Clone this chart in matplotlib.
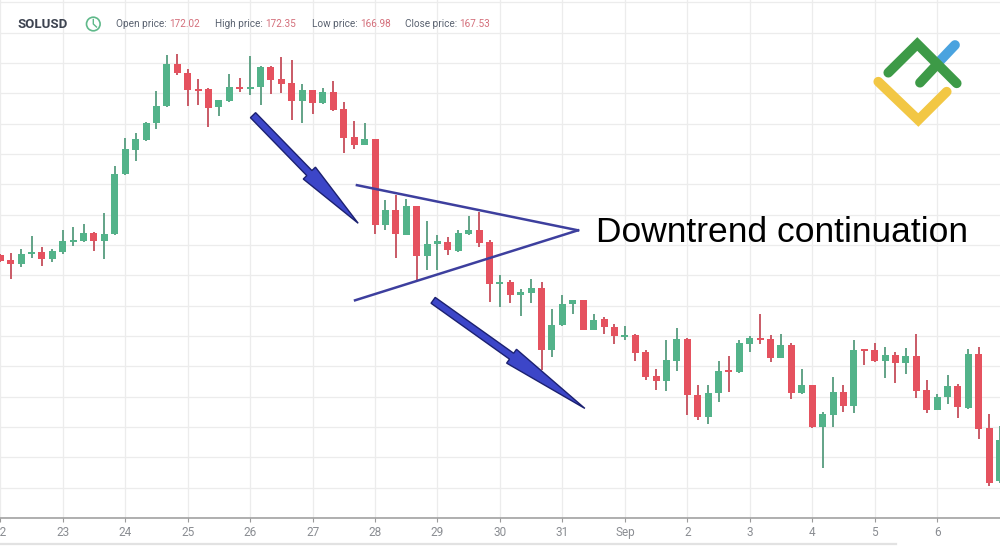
import numpy as np
import matplotlib
matplotlib.use("Agg")
import matplotlib.pyplot as plt
from matplotlib.patches import Polygon, Ellipse
from matplotlib.lines import Line2D

# 4h candles, SOLUSD, starting Aug 22 00:00
opens = [146.65, 146.24, 145.91, 146.76, 146.90, 146.38, 146.92, 147.78, 147.83, 148.52,
         147.86, 148.38, 153.39, 155.31, 156.14, 157.52, 158.94, 162.38, 161.69, 160.35,
         160.32, 158.84, 159.38, 160.53, 160.37, 160.49, 162.18, 161.15, 160.82, 159.36,
         160.26, 159.21, 160.07, 158.67, 156.36, 155.78, 156.20, 149.13, 150.42, 148.36,
         150.69, 146.57, 147.56, 147.75, 147.00, 148.38, 148.77, 147.75, 144.26, 144.45,
         143.35, 143.54, 143.99, 138.81, 140.93, 142.61, 142.94, 140.52, 141.39, 140.73,
         139.91, 140.05, 138.67, 136.69, 136.28, 137.93, 139.72, 135.16, 133.31, 135.29,
         137.16, 137.02, 139.37, 139.78, 139.72, 138.21, 139.28, 135.29, 135.98, 132.54,
         133.51, 135.37, 134.22, 138.87, 138.81, 137.90, 138.40, 137.76, 138.34, 135.51,
         133.94, 134.96, 135.84, 134.09, 138.54, 132.44, 128.09]
highs = [146.73, 146.82, 147.15, 148.22, 147.33, 147.17, 148.71, 148.98, 149.21, 148.60,
         150.14, 154.02, 156.30, 156.69, 157.60, 160.18, 163.15, 163.23, 161.97, 161.15,
         160.40, 159.44, 161.58, 161.28, 163.07, 162.25, 162.25, 163.01, 162.74, 160.73,
         160.30, 160.40, 161.01, 159.25, 157.71, 157.52, 156.25, 151.19, 151.60, 151.25,
         150.75, 149.48, 148.30, 148.16, 148.71, 149.89, 150.22, 147.95, 145.00, 144.65,
         143.90, 144.67, 144.45, 142.25, 143.35, 143.00, 143.00, 141.84, 141.56, 141.02,
         140.82, 140.13, 138.81, 137.30, 139.64, 140.65, 139.80, 135.98, 135.92, 137.90,
         138.32, 139.70, 139.99, 141.84, 140.11, 140.13, 139.41, 137.30, 136.00, 133.72,
         136.61, 135.98, 139.70, 138.90, 139.41, 139.08, 138.67, 139.04, 140.19, 136.40,
         135.24, 136.81, 136.07, 138.95, 139.08, 133.59, 132.62]
lows = [146.07, 144.67, 145.68, 146.40, 145.80, 146.10, 146.73, 147.39, 147.78, 147.00,
        146.34, 148.30, 153.30, 154.43, 156.10, 157.02, 158.90, 161.48, 158.94, 159.03,
        157.19, 158.12, 159.30, 160.12, 159.85, 159.03, 159.93, 159.99, 157.79, 157.52,
        158.28, 159.11, 158.53, 155.04, 155.37, 155.70, 148.44, 148.71, 146.46, 148.30,
        144.65, 145.47, 145.41, 146.65, 146.92, 148.30, 147.33, 142.80, 142.38, 142.71,
        141.62, 142.71, 137.22, 138.26, 140.79, 141.84, 140.46, 140.46, 140.19, 139.31,
        139.70, 137.90, 136.40, 135.57, 135.43, 137.08, 133.45, 133.10, 132.77, 134.60,
        135.37, 136.95, 138.67, 139.37, 137.85, 138.15, 134.83, 135.20, 132.40, 129.14,
        132.54, 133.72, 133.64, 137.63, 137.85, 136.56, 136.15, 136.89, 134.91, 133.64,
        133.90, 134.42, 133.23, 134.00, 131.53, 127.67, 127.90]
closes = [146.16, 145.91, 146.76, 146.92, 146.38, 147.00, 147.86, 147.89, 148.52, 147.86,
          148.44, 153.39, 155.37, 156.20, 157.52, 158.97, 162.38, 161.64, 160.26, 160.18,
          158.80, 159.44, 160.53, 160.32, 160.53, 162.18, 161.09, 160.73, 159.36, 160.26,
          159.21, 160.07, 158.61, 156.28, 155.78, 156.20, 149.18, 150.42, 148.38, 150.69,
          146.57, 147.56, 147.81, 147.06, 148.49, 148.77, 147.66, 144.26, 144.36, 143.35,
          143.62, 143.99, 138.81, 140.93, 142.61, 142.94, 140.52, 141.35, 140.73, 139.97,
          140.05, 138.59, 136.61, 136.28, 137.99, 139.72, 135.10, 133.31, 135.32, 137.08,
          137.00, 139.41, 139.83, 139.64, 138.21, 139.22, 135.29, 135.92, 132.48, 133.59,
          135.37, 134.22, 138.81, 138.73, 137.90, 138.40, 137.76, 138.34, 135.45, 133.94,
          134.96, 135.84, 134.13, 138.48, 132.35, 127.86, 131.39]

day_ticks = list(range(16))
day_labels = ["22", "23", "24", "25", "26", "27", "28", "29", "30", "31",
              "Sep", "2", "3", "4", "5", "6"]

header_items = [("Open price:", "172.02", 116), ("High price:", "172.35", 215),
                ("Low price:", "166.98", 312), ("Close price:", "167.53", 405)]

GREEN = "#53b38a"
RED = "#e5525f"
GREEN_WICK = "#62a387"
RED_WICK = "#c95a66"

W, H = 1000, 547
fig = plt.figure(figsize=(W / 100, H / 100), dpi=100)
ax = fig.add_axes([0, 29 / H, 1, 518 / H])

x = np.arange(len(opens)) / 6.0
o = np.array(opens)
c = np.array(closes)
up = c >= o
body_lo = np.minimum(o, c)
body_h = np.maximum(np.abs(c - o), 0.17)
cols = np.where(up, GREEN, RED)
wcols = np.where(up, GREEN_WICK, RED_WICK)

ax.vlines(x, lows, highs, colors=wcols, linewidth=1.4, zorder=2)
ax.bar(x, body_h, bottom=body_lo, width=0.112, color=cols, linewidth=0, zorder=3)

ax.set_xlim(-0.005, 16.007)
ax.set_ylim(125, 167.69)
ax.set_xticks(day_ticks)
ax.set_xticklabels(day_labels, fontsize=8.5, color="#8a8d92", family="Roboto")
ax.set_yticks(np.arange(125, 168, 2.5))
ax.tick_params(axis="x", length=3, width=0.8, color="#9a9a9a", pad=2.5)
ax.tick_params(axis="y", left=False, labelleft=False)
ax.grid(True, color="#ececec", linewidth=0.9, zorder=0)
ax.set_axisbelow(True)
for s in ["top", "right", "left"]:
    ax.spines[s].set_visible(False)
ax.spines["bottom"].set_color("#9a9a9a")
ax.spines["bottom"].set_linewidth(1.1)

# triangle (pennant) lines
tri_color = "#3d3f9e"
ax.plot([5.71, 9.25], [152.43, 148.71], color=tri_color, lw=1.8, zorder=5)
ax.plot([5.68, 9.25], [142.94, 148.71], color=tri_color, lw=1.8, zorder=5)
ax.text(9.54, 148.5, "Downtrend continuation", fontsize=25.5, family="Liberation Sans",
        color="black", ha="left", va="center", zorder=6)


def px_to_fig(pts):
    pts = np.asarray(pts, dtype=float)
    return pts / np.array([W, H])


def big_arrow(tail, tip, shaft=3.6, head=8.5, head_len=70):
    p0 = ax.transData.transform(tail)
    p1 = ax.transData.transform(tip)
    d = p1 - p0
    u = d / np.hypot(*d)
    n = np.array([-u[1], u[0]])
    base = p1 - u * head_len
    pts = [p0 + n * shaft, base + n * shaft, base + n * head, p1,
           base - n * head, base - n * shaft, p0 - n * shaft]
    fig.patches.append(Polygon(px_to_fig(pts), closed=True, transform=fig.transFigure,
                               facecolor="#3c46c8", edgecolor="#1b2070", lw=1.0, zorder=7))


big_arrow((4.046, 158.2), (5.73, 149.29), head_len=70)
big_arrow((6.93, 142.94), (9.36, 134.03), head_len=90)


def fig_line(pts, color, lw, **kw):
    pts = np.array(pts, dtype=float)
    pts[:, 1] = H - pts[:, 1]
    f = px_to_fig(pts)
    fig.lines.append(Line2D(f[:, 0], f[:, 1], transform=fig.transFigure, color=color,
                            lw=lw, **kw))


# header
fig.text(17 / W, 1 - 24 / H, "SOLUSD", fontsize=9.5, fontweight="bold", color="#3d4350",
         family="Roboto", ha="left", va="center")
clock = "#5fb98a"
fig.patches.append(Ellipse(px_to_fig((93.3, H - 24)), 13.6 / W, 13.6 / H,
                           transform=fig.transFigure, fill=False, edgecolor=clock, lw=1.2))
fig_line([(93.3, 19.5), (93.3, 24), (96.5, 27)], clock, 1.0)
renderer = fig.canvas.get_renderer()
for label, val, xp in header_items:
    t = fig.text(xp / W, 1 - 24 / H, label + " ", fontsize=7.2, color="#5a6270",
                 family="Roboto", ha="left", va="center")
    bb = t.get_window_extent(renderer=renderer)
    fig.text(bb.x1 / W, 1 - 24 / H, val, fontsize=7.2, color="#d46f7b",
             family="Roboto", ha="left", va="center")

# logo
logo_kw = dict(solid_capstyle="round", solid_joinstyle="miter")
fig_line([(878.3, 81.7), (918.3, 120), (946.7, 91.7)], "#f2c744", 7, **logo_kw)
fig_line([(936, 65), (955, 45)], "#4aa3df", 7, **logo_kw)
fig_line([(888.3, 72.7), (917.3, 44), (956.7, 83.3)], "#3d9a47", 7, **logo_kw)
fig_line([(920, 82.7), (937, 64.5)], "#3d9a47", 7, **logo_kw)

# bottom scrollbar line
fig.lines.append(Line2D([0, 896 / W], [(H - 543.7) / H] * 2, transform=fig.transFigure,
                        color="#e2e2e2", lw=1.6))

fig.savefig("out.png", dpi=100)
